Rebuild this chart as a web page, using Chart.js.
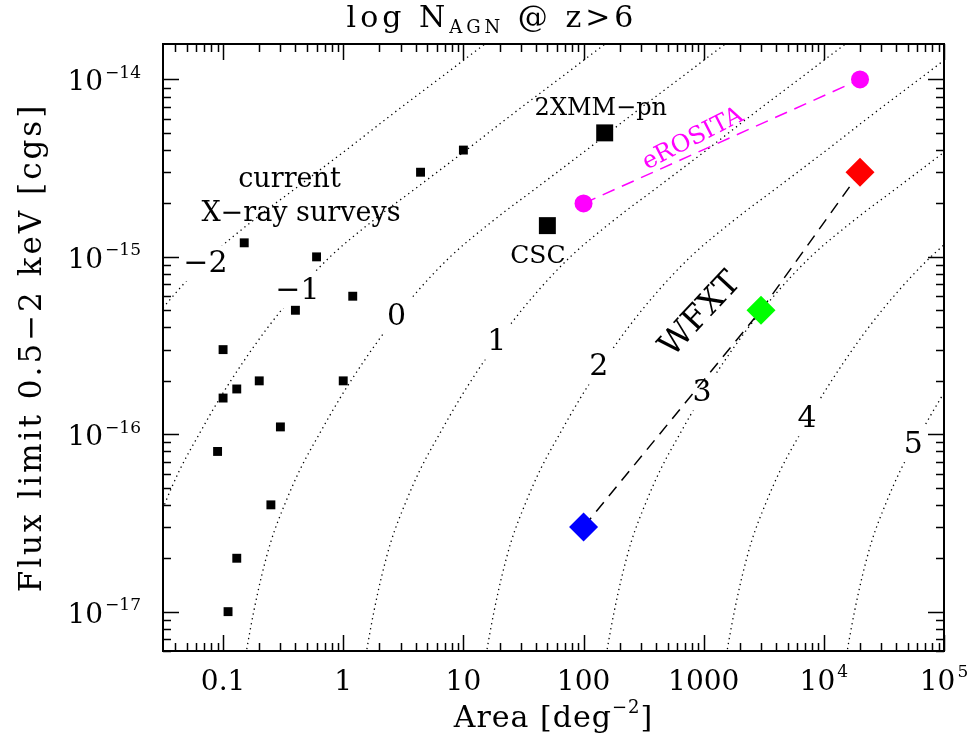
<!DOCTYPE html>
<html><head><meta charset="utf-8">
<script src="https://cdn.jsdelivr.net/npm/chart.js@4/dist/chart.umd.min.js"></script>
<style>html,body{margin:0;padding:0;background:#fff}canvas{display:block}</style>
</head><body>
<canvas id="c" width="974" height="742"></canvas>
<script>
// ---------------- data ----------------
// current X-ray surveys (small squares)
const surveyArea = [10, 4.4, 0.15, 0.6, 1.2, 0.4, 0.1, 0.2, 1, 0.13, 0.1, 0.3, 0.09, 0.25, 0.13, 0.11];
const surveyFlux = [4e-15, 3e-15, 1.2e-15, 1e-15, 6e-16, 5e-16, 3e-16, 2e-16, 2e-16, 1.8e-16, 1.6e-16, 1.1e-16, 8e-17, 4e-17, 2e-17, 1e-17];
// named surveys (big squares)
const namedSurveys = ['CSC', '2XMM\u2212pn'];
const namedArea = [50, 150];
const namedFlux = [1.5e-15, 5e-15];
// eROSITA
const erositaArea = [100, 20000];
const erositaFlux = [2e-15, 1e-14];
// WFXT
const wfxtArea = [100, 3000, 20000];
const wfxtFlux = [3e-17, 5e-16, 3e-15];
const wfxtColors = ['#0000ff', '#00ff00', '#ff0000'];
// contour levels of log N_AGN (z>6)
const contourLevels = [-2, -1, 0, 1, 2, 3, 4, 5];
const contourLabels = ['\u22122', '\u22121', '0', '1', '2', '3', '4', '5'];
const contourLabelArea = [0.0712, 0.416, 2.78, 18.95, 134, 968, 7260, 55500];
const contourLabelFlux = [9.2e-16, 6.5e-16, 4.65e-16, 3.33e-16, 2.41e-16, 1.72e-16, 1.23e-16, 8.8e-17];
// cumulative sky density of z>6 AGN, log N(>S) [deg^-2]
const profileLogFlux = [-13.6, -13.8, -14.0, -14.2, -14.4, -14.6, -14.8, -15.0, -15.2, -15.4, -15.6, -15.8, -16.0, -16.2, -16.4, -16.6, -16.8, -17.0, -17.2, -17.4];
const profileLogN   = [-3.57, -3.18, -2.79, -2.40, -2.02, -1.63, -1.24, -0.89, -0.61, -0.37, -0.16, 0.03, 0.20, 0.36, 0.49, 0.60, 0.68, 0.745, 0.80, 0.85];
// axis ticks
const xTickValues = [0.1, 1, 10, 100, 1000, 1e4, 1e5];
const xTickLabels = [['0.1', ''], ['1', ''], ['10', ''], ['100', ''], ['1000', ''], ['10', '4'], ['10', '5']];
const yTickValues = [1e-14, 1e-15, 1e-16, 1e-17];
const yTickLabels = [['10', '\u221214'], ['10', '\u221215'], ['10', '\u221216'], ['10', '\u221217']];

// ---------------- styling ----------------
const SERIF = '"DejaVu Serif", "Liberation Serif", serif';

function contourData(level) {
  return profileLogFlux.map((s, i) => ({ x: Math.pow(10, level - profileLogN[i]), y: Math.pow(10, s) }));
}

const datasets = [];
contourLevels.forEach((lv, i) => {
  datasets.push({
    label: 'logN=' + lv, data: contourData(lv), showLine: true, isContour: true, contourIndex: i,
    borderColor: '#000', borderWidth: 1.3, borderDash: [1.3, 3.7], pointRadius: 0,
    cubicInterpolationMode: 'monotone', order: 5, fill: false
  });
});
datasets.push({
  label: 'surveys', data: surveyArea.map((a, i) => ({ x: a, y: surveyFlux[i] })),
  pointStyle: 'rect', pointRadius: 6.3, backgroundColor: '#000', borderWidth: 0, showLine: false, order: 1
});
datasets.push({
  label: 'named', data: namedArea.map((a, i) => ({ x: a, y: namedFlux[i] })),
  pointStyle: 'rect', pointRadius: 12, backgroundColor: '#000', borderWidth: 0, showLine: false, order: 1
});
datasets.push({
  label: 'eROSITA', data: erositaArea.map((a, i) => ({ x: a, y: erositaFlux[i] })),
  showLine: true, borderColor: '#ff00ff', borderWidth: 1.5, borderDash: [13, 8],
  pointStyle: 'circle', pointRadius: 9, pointBackgroundColor: '#ff00ff', pointBorderWidth: 0, order: 1
});
datasets.push({
  label: 'WFXT', data: wfxtArea.map((a, i) => ({ x: a, y: wfxtFlux[i] })),
  showLine: true, borderColor: '#000', borderWidth: 1.5, borderDash: [12, 8],
  pointStyle: 'rectRot', pointRadius: 14.5, pointBackgroundColor: wfxtColors, pointBorderWidth: 0, order: 1
});

const annotations = {
  current: { text: 'current', x: 0.357, y: 2.485e-15, size: 27 },
  xray: { text: 'X\u2212ray surveys', x: 0.445, y: 1.583e-15, size: 27 },
  xmm: { text: namedSurveys[1], x: 139.3, y: 6.29e-15, size: 24 },
  csc: { text: namedSurveys[0], x: 41.7, y: 9.23e-16, size: 25 },
  erosita: { text: 'eROSITA', x: 815, y: 4.61e-15, size: 24, color: '#ff00ff' },
  wfxt: { text: 'WFXT', x: 946, y: 4.71e-16, size: 33, angle: -47 }
};

function setSpacing(ctx, px) {
  if ('letterSpacing' in ctx) ctx.letterSpacing = px + 'px';
}

function drawSup(ctx, base, sup, x, y, size, align) {
  ctx.font = size + 'px ' + SERIF;
  const wb = ctx.measureText(base).width;
  const supSize = Math.round(size * 0.62);
  ctx.font = supSize + 'px ' + SERIF;
  const ws = sup ? ctx.measureText(sup).width + 2 : 0;
  const total = wb + ws;
  let x0 = align === 'right' ? x - total : x - total / 2;
  ctx.textAlign = 'left';
  ctx.textBaseline = 'alphabetic';
  ctx.font = size + 'px ' + SERIF;
  ctx.fillText(base, x0, y);
  if (sup) {
    ctx.font = supSize + 'px ' + SERIF;
    ctx.fillText(sup, x0 + wb + 2, y - size * 0.45);
  }
}

// draw a run of pieces [{t, size, dy}] centred at cx with given letter spacing
function drawRun(ctx, pieces, cx, y, spacing) {
  setSpacing(ctx, spacing);
  let total = 0;
  const ws = pieces.map(p => { ctx.font = p.size + 'px ' + SERIF; const w = ctx.measureText(p.t).width; total += w; return w; });
  let x = cx - total / 2;
  ctx.textAlign = 'left'; ctx.textBaseline = 'alphabetic';
  pieces.forEach((p, i) => { ctx.font = p.size + 'px ' + SERIF; ctx.fillText(p.t, x, y + (p.dy || 0)); x += ws[i]; });
  setSpacing(ctx, 0);
}

const framePlugin = {
  id: 'frame',
  beforeDraw(chart) {
    const ctx = chart.ctx;
    ctx.save(); ctx.fillStyle = '#fff'; ctx.fillRect(0, 0, chart.width, chart.height); ctx.restore();
  },
  afterDatasetDraw(chart, args) {
    const ds = chart.data.datasets[args.index];
    if (!ds.isContour) return;
    const i = ds.contourIndex;
    const ctx = chart.ctx;
    const xs = chart.scales.x, ys = chart.scales.y;
    const px = xs.getPixelForValue(contourLabelArea[i]);
    const py = ys.getPixelForValue(contourLabelFlux[i]);
    ctx.save();
    ctx.font = '30px ' + SERIF;
    const w = ctx.measureText(contourLabels[i]).width;
    ctx.fillStyle = '#fff';
    ctx.fillRect(px - w / 2 - 5, py - 18, w + 10, 36);
    ctx.fillStyle = '#000';
    ctx.textAlign = 'center';
    ctx.textBaseline = 'middle';
    ctx.fillText(contourLabels[i], px, py + 1);
    ctx.restore();
  },
  afterDraw(chart) {
    const ctx = chart.ctx;
    const a = chart.chartArea;
    const xs = chart.scales.x, ys = chart.scales.y;
    ctx.save();
    ctx.fillStyle = '#000';
    ctx.strokeStyle = '#000';
    // frame
    ctx.lineWidth = 2;
    ctx.strokeRect(a.left, a.top, a.right - a.left, a.bottom - a.top);
    // ticks
    ctx.lineWidth = 1.5;
    const major = 16, minor = 8;
    ctx.beginPath();
    for (let e = -2; e <= 5; e++) {
      for (let m = 1; m <= 9; m++) {
        const v = m * Math.pow(10, e);
        if (v < xs.min * 0.999 || v > xs.max * 1.001) continue;
        const p = Math.round(xs.getPixelForValue(v)) + 0.5;
        const L = m === 1 ? major : minor;
        ctx.moveTo(p, a.bottom); ctx.lineTo(p, a.bottom - L);
        ctx.moveTo(p, a.top); ctx.lineTo(p, a.top + L);
      }
    }
    for (let e = -18; e <= -14; e++) {
      for (let m = 1; m <= 9; m++) {
        const v = m * Math.pow(10, e);
        if (v < ys.min * 0.999 || v > ys.max * 1.001) continue;
        const p = Math.round(ys.getPixelForValue(v)) + 0.5;
        const L = m === 1 ? major : minor;
        ctx.moveTo(a.left, p); ctx.lineTo(a.left + L, p);
        ctx.moveTo(a.right, p); ctx.lineTo(a.right - L, p);
      }
    }
    ctx.stroke();
    // tick labels
    xTickValues.forEach((v, i) => {
      const p = xs.getPixelForValue(v);
      drawSup(ctx, xTickLabels[i][0], xTickLabels[i][1], p, a.bottom + 39, 28, 'center');
    });
    yTickValues.forEach((v, i) => {
      const p = ys.getPixelForValue(v);
      drawSup(ctx, yTickLabels[i][0], yTickLabels[i][1], a.left - 22, p + 11, 28, 'right');
    });
    // x axis title
    drawRun(ctx, [{ t: 'Area [deg', size: 30 }, { t: '\u22122', size: 18, dy: -14 }, { t: ']', size: 30 }],
      (a.left + a.right) / 2, 727, 1);

    // y axis title
    ctx.save();
    ctx.translate(41, (a.top + a.bottom) / 2);
    ctx.rotate(-Math.PI / 2);
    drawRun(ctx, [{ t: 'Flux limit 0.5\u22122 keV [cgs]', size: 31 }], 0, 0, 3);
    ctx.restore();

    // title
    drawRun(ctx, [{ t: 'log N', size: 30 }, { t: 'AGN', size: 18, dy: 6 }, { t: ' @ z>6', size: 30 }], 492, 27, 4);

    // annotations
    const eroAngle = Math.atan2(
      ys.getPixelForValue(erositaFlux[1]) - ys.getPixelForValue(erositaFlux[0]),
      xs.getPixelForValue(erositaArea[1]) - xs.getPixelForValue(erositaArea[0]));
    Object.keys(annotations).forEach(k => {
      const an = annotations[k];
      const px = xs.getPixelForValue(an.x), py = ys.getPixelForValue(an.y);
      ctx.save();
      ctx.translate(px, py);
      if (k === 'erosita') ctx.rotate(eroAngle - 0.05);
      if (an.angle) ctx.rotate(an.angle * Math.PI / 180);
      ctx.font = an.size + 'px ' + SERIF;
      ctx.fillStyle = an.color || '#000';
      ctx.textAlign = 'center';
      ctx.textBaseline = (k === 'erosita' || k === 'wfxt') ? 'middle' : 'alphabetic';
      ctx.fillText(an.text, 0, 0);
      ctx.restore();
    });
    ctx.restore();
  }
};

new Chart(document.getElementById('c'), {
  type: 'scatter',
  data: { datasets },
  options: {
    responsive: false, animation: false, devicePixelRatio: 1,
    layout: { padding: { left: 163, right: 30, top: 44, bottom: 91 } },
    plugins: { legend: { display: false }, tooltip: { enabled: false } },
    scales: {
      x: { type: 'logarithmic', min: Math.pow(10, -1.5), max: 1e5, display: false },
      y: { type: 'logarithmic', min: Math.pow(10, -17.2), max: Math.pow(10, -13.8), display: false }
    }
  },
  plugins: [framePlugin]
});
</script>
</body></html>
